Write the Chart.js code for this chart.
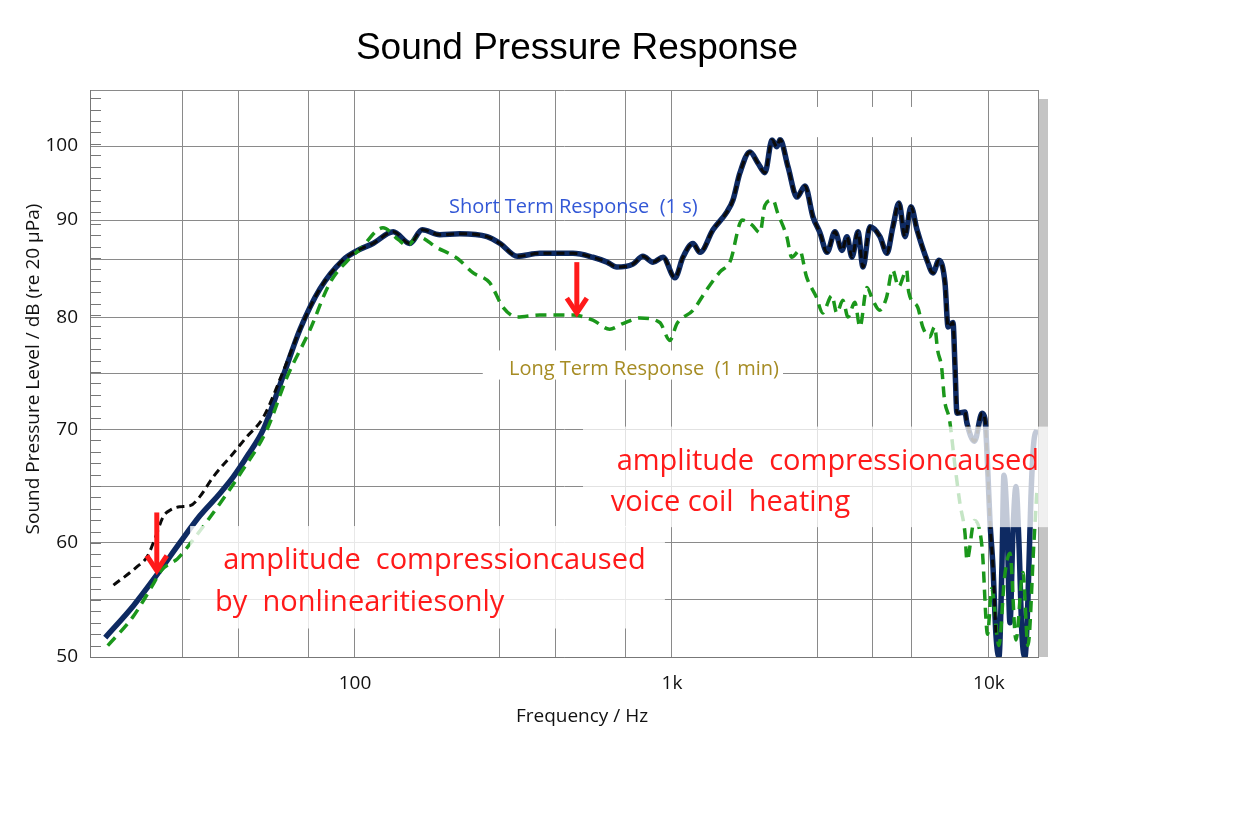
<!DOCTYPE html>
<html>
<head>
<meta charset="utf-8">
<title>Sound Pressure Response</title>
<script src="https://cdn.jsdelivr.net/npm/chart.js@4.4.1/dist/chart.umd.min.js"></script>
<style>
  html, body { margin: 0; padding: 0; background: #fff; }
  canvas { display: block; }
</style>
</head>
<body>
<canvas id="grafico" width="1240" height="815"></canvas>
<script>
// Datos (frecuencia en Hz, nivel en dB)

// Respuesta de corto plazo (linea azul oscuro continua)
const cortoFreq = [16.3, 20, 23.7, 28, 32.4, 37, 41.2, 46, 51.3, 59.3,
  67.1, 77.6, 91.6, 102, 114, 132, 149, 163, 185, 214,
  261, 287, 325, 383, 487, 563, 624, 670, 753, 810,
  871, 937, 1022, 1083, 1165, 1226, 1347, 1491, 1557, 1639,
  1762, 1867, 1965, 2068, 2144, 2192, 2323, 2479, 2628, 2786,
  2930, 3085, 3268, 3438, 3565, 3697, 3863, 4005, 4213, 4530,
  4766, 4977, 5200, 5433, 5676, 5930, 6375, 6658, 6956, 7266,
  7430, 7700, 7816, 7925, 8400, 8524, 9000, 9513, 9712, 9930,
  10070, 10293, 10519, 10753, 10990, 11150, 11400, 11650, 11906, 12167,
  12434, 12708, 12987, 13272, 13563, 13860, 14165];
const cortoDb = [51.7, 54.5, 57.2, 60.0, 62.4, 64.2, 65.8, 67.8, 70.0, 74.8,
  79.0, 83.0, 85.9, 86.9, 87.6, 88.8, 87.6, 89.0, 88.5, 88.6,
  88.3, 87.6, 86.3, 86.6, 86.6, 86.2, 85.7, 85.2, 85.5, 86.3,
  85.7, 86.2, 84.1, 86.2, 87.6, 86.7, 89.0, 91.1, 92.7, 96.4,
  99.2, 97.7, 96.4, 100.8, 99.9, 100.9, 97.2, 93.1, 94.6, 90.4,
  88.7, 86.7, 88.8, 86.9, 88.3, 86.2, 88.8, 85.2, 89.3, 88.3,
  86.6, 89.3, 92.3, 88.3, 91.8, 89.0, 85.9, 84.6, 85.9, 83.6,
  79.2, 79.6, 75.6, 71.5, 71.6, 70.6, 69.0, 71.5, 71.0, 66.0,
  62.0, 58.0, 52.0, 50.0, 58.0, 66.0, 62.0, 53.0, 61.0, 65.0,
  60.0, 52.0, 50.0, 55.0, 64.0, 69.0, 70.0];

// Linea negra discontinua: tramo de graves propio, luego sigue a la azul
const negroFreq = [17.3, 20.5, 22.1, 23.4, 24.8, 26.1, 28.0, 30.2, 32.4, 35.6, 41.2, 45.6, 51.3, 59.3];
const negroDb = [56.3, 57.9, 58.8, 60.4, 62.3, 62.9, 63.2, 63.3, 64.1, 65.8, 67.9, 69.4, 71.1, 75.2];

// Respuesta de largo plazo (verde discontinua)
const largoFreq = [16.6, 19.9, 23.0, 24.5, 26.1, 27.5, 30.9, 37.5, 43.4, 52.7,
  61, 72, 83.4, 96.4, 103.7, 122.5, 137, 146, 158, 181,
  210, 236, 266, 293, 324, 383, 487, 563, 636, 700,
  792, 915, 985, 1037, 1166, 1288, 1417, 1527, 1665, 1788,
  1895, 1965, 2081, 2157, 2303, 2387, 2530, 2658, 2858, 2987,
  3195, 3311, 3460, 3592, 3775, 3917, 4120, 4304, 4522, 4752,
  4965, 5188, 5500, 5580, 5960, 6180, 6500, 6740, 6890, 7090,
  7240, 7510, 7800, 8100, 8400, 8524, 9000, 9513, 9900, 10200,
  10750, 11200, 11650, 12167, 12800, 13272, 13860, 14165];
const largoDb = [51.0, 53.5, 56.3, 57.6, 58.2, 58.6, 60.3, 63.5, 66.1, 70.0,
  74.7, 78.9, 83.6, 86.1, 87.0, 89.2, 88.0, 87.4, 88.3, 87.2,
  86.1, 84.6, 83.6, 81.1, 80.1, 80.3, 80.3, 79.8, 79.0, 79.5,
  80.0, 79.6, 78.0, 79.5, 80.8, 82.9, 84.7, 85.8, 90.0, 89.5,
  88.7, 92.0, 92.7, 90.9, 88.3, 86.2, 86.9, 84.2, 82.1, 80.5,
  82.3, 80.5, 81.8, 80.1, 81.6, 79.2, 83.1, 81.8, 80.8, 82.1,
  84.9, 83.2, 84.9, 82.7, 81.1, 79.2, 78.3, 79.2, 77.1, 75.6,
  72.7, 70.9, 67.0, 63.5, 60.9, 58.5, 62.0, 59.6, 52.0, 56.0,
  51.0, 57.0, 59.1, 51.5, 57.4, 51.0, 60.0, 64.6];

// Ejes
const ejeXMin = 14.59;
const ejeXMax = 14280;
const lineasX = [28.5, 42.8, 71.6, 100, 286, 428, 716, 1000, 2870, 4300, 5700, 10000, 14280];
const etiquetasX = { 100: '100', 1000: '1k', 10000: '10k' };
const lineasY = [50, 55, 60, 65, 70, 75, 80, 86, 90, 100, 107.6];
const etiquetasY = [50, 60, 70, 80, 90, 100];

// El eje vertical del original no es lineal: tramos entre valores rotulados
const tramoValor = [50, 60, 70, 80, 90, 100, 107.6];
const tramoDecimal = [0, 0.2011, 0.4004, 0.5979, 0.7707, 0.9012, 1];

// Flechas rojas (frecuencia, desde dB, hasta dB)
const flechas = [
  { f: 23.7, desde: 62.7, hasta: 57.4 },
  { f: 501, desde: 85.7, hasta: 80.3 }
];

function aDecimal(v) {
  for (let i = 1; i < tramoValor.length; i++) {
    if (v <= tramoValor[i] || i === tramoValor.length - 1) {
      const t = (v - tramoValor[i - 1]) / (tramoValor[i] - tramoValor[i - 1]);
      return tramoDecimal[i - 1] + t * (tramoDecimal[i] - tramoDecimal[i - 1]);
    }
  }
}
function deDecimal(d) {
  for (let i = 1; i < tramoDecimal.length; i++) {
    if (d <= tramoDecimal[i] || i === tramoDecimal.length - 1) {
      const t = (d - tramoDecimal[i - 1]) / (tramoDecimal[i] - tramoDecimal[i - 1]);
      return tramoValor[i - 1] + t * (tramoValor[i] - tramoValor[i - 1]);
    }
  }
}

class EscalaDb extends Chart.LinearScale {
  getPixelForValue(v) {
    if (v === null || v === undefined) return NaN;
    return this.getPixelForDecimal(aDecimal(v));
  }
  getValueForPixel(p) {
    return deDecimal(this.getDecimalForPixel(p));
  }
}
EscalaDb.id = 'escalaDb';
EscalaDb.defaults = Chart.LinearScale.defaults;
Chart.register(EscalaDb);

const puntos = (fs, vs) => fs.map((f, i) => ({ x: f, y: vs[i] }));

const datosCorto = puntos(cortoFreq, cortoDb);
const datosNegro = puntos(negroFreq, negroDb)
  .concat(datosCorto.filter(p => p.x >= 67 && p.x <= 10600));
const datosLargo = puntos(largoFreq, largoDb);

const FUENTE = "'Open Sans', 'DejaVu Sans', sans-serif";

const anotaciones = {
  id: 'anotaciones',
  beforeDatasetsDraw(chart) {
    const { ctx, chartArea: a, scales: { y } } = chart;
    ctx.save();
    // sombra gris a la derecha
    ctx.fillStyle = '#c4c4c4';
    ctx.fillRect(a.right + 1, a.top + 9, 9, a.bottom - a.top - 9);
    // marcas menores del eje vertical
    const paso = (y.getPixelForValue(50) - y.getPixelForValue(60)) / 10;
    ctx.strokeStyle = '#777';
    ctx.lineWidth = 1;
    for (let py = a.bottom; py > a.top + 5; py -= paso) {
      ctx.beginPath();
      ctx.moveTo(a.left, Math.round(py) + 0.5);
      ctx.lineTo(a.left + 11, Math.round(py) + 0.5);
      ctx.stroke();
    }
    ctx.restore();
  },
  afterDatasetsDraw(chart) {
    const { ctx, scales: { x, y } } = chart;
    ctx.save();
    const caja = (f1, f2, d1, d2, alfa) => {
      const x1 = x.getPixelForValue(f1), x2 = x.getPixelForValue(f2);
      const y1 = y.getPixelForValue(d1), y2 = y.getPixelForValue(d2);
      ctx.fillStyle = 'rgba(255,255,255,' + alfa + ')';
      ctx.fillRect(x1, y1, x2 - x1, y2 - y1);
    };
    caja(1226, 8100, 105.3, 101.2, 1);
    caja(253, 2240, 77.1, 74.5, 1);
    caja(524, 15350, 70.3, 61.4, 0.75);
    caja(30.2, 950, 61.5, 52.5, 0.8);

    const texto = (t, f, d, color, size) => {
      ctx.font = size + 'px ' + FUENTE;
      ctx.fillStyle = color;
      ctx.textAlign = 'left';
      ctx.textBaseline = 'alphabetic';
      ctx.fillText(t, x.getPixelForValue(f), y.getPixelForValue(d));
    };
    texto('Short Term Response  (1 s)', 198, 90.9, '#3358d6', 20);
    texto('Long Term Response  (1 min)', 306, 74.9, '#a68c24', 20);
    texto('amplitude  compressioncaused', 669, 66.5, '#ff1a1a', 29);
    texto('voice coil  heating', 641, 62.8, '#ff1a1a', 29);
    texto('amplitude  compressioncaused', 38.4, 57.7, '#ff1a1a', 29);
    texto('by  nonlinearitiesonly', 36.2, 54.0, '#ff1a1a', 29);

    // flechas rojas
    ctx.strokeStyle = '#ff1a1a';
    ctx.lineWidth = 5;
    ctx.lineCap = 'butt';
    flechas.forEach(fl => {
      const px = x.getPixelForValue(fl.f);
      const y1 = y.getPixelForValue(fl.desde), y2 = y.getPixelForValue(fl.hasta);
      ctx.beginPath();
      ctx.moveTo(px, y1);
      ctx.lineTo(px, y2 - 2);
      ctx.stroke();
      ctx.beginPath();
      ctx.moveTo(px - 10, y2 - 17);
      ctx.lineTo(px, y2 - 2);
      ctx.lineTo(px + 10, y2 - 17);
      ctx.stroke();
    });
    ctx.restore();
  },
  afterDraw(chart) {
    const { ctx } = chart;
    ctx.save();
    ctx.fillStyle = '#000';
    ctx.textAlign = 'center';
    ctx.textBaseline = 'alphabetic';
    ctx.font = "37px 'Liberation Sans', Arial, sans-serif";
    ctx.fillText('Sound Pressure Response', 577, 59);
    ctx.font = '19px ' + FUENTE;
    ctx.fillStyle = '#111';
    ctx.fillText('Frequency / Hz', 582, 722);
    ctx.translate(39, 369);
    ctx.rotate(-Math.PI / 2);
    ctx.font = '19px ' + FUENTE;
    ctx.fillText('Sound Pressure Level / dB (re 20 \u00b5Pa)', 0, 0);
    ctx.restore();
  }
};

const ctx = document.getElementById('grafico').getContext('2d');
new Chart(ctx, {
  type: 'line',
  data: {
    datasets: [
      {
        label: 'Short Term Response (1 s) - dashed',
        data: datosNegro,
        borderColor: '#0a0a0a',
        borderWidth: 3,
        borderDash: [8, 5],
        pointRadius: 0,
        fill: false,
        cubicInterpolationMode: 'monotone'
      },
      {
        label: 'Long Term Response (1 min)',
        data: datosLargo,
        borderColor: '#1b971b',
        borderWidth: 3.5,
        borderDash: [11, 7],
        pointRadius: 0,
        fill: false,
        cubicInterpolationMode: 'monotone'
      },
      {
        label: 'Short Term Response (1 s)',
        data: datosCorto,
        borderColor: '#0e2a62',
        borderWidth: 5.5,
        pointRadius: 0,
        fill: false,
        cubicInterpolationMode: 'monotone'
      }
    ]
  },
  options: {
    responsive: false,
    animation: false,
    events: [],
    layout: { padding: { top: 90, right: 202, bottom: 98, left: 0 } },
    plugins: {
      legend: { display: false },
      tooltip: { enabled: false },
      title: { display: false }
    },
    scales: {
      x: {
        type: 'logarithmic',
        min: ejeXMin,
        max: ejeXMax,
        afterBuildTicks: s => { s.ticks = lineasX.map(v => ({ value: v })); },
        afterFit: s => { s.height = 60; },
        grid: { color: '#8a8a8a', lineWidth: 1, drawTicks: false },
        border: { color: '#777', width: 1 },
        ticks: {
          autoSkip: false,
          maxRotation: 0,
          padding: 15,
          color: '#111',
          font: { family: FUENTE, size: 19 },
          callback: v => etiquetasX[v] || ''
        }
      },
      y: {
        type: 'escalaDb',
        min: 50,
        max: 107.6,
        afterBuildTicks: s => { s.ticks = lineasY.map(v => ({ value: v })); },
        afterFit: s => { s.width = 90; },
        grid: { color: '#8a8a8a', lineWidth: 1, drawTicks: false },
        border: { color: '#777', width: 1 },
        ticks: {
          autoSkip: false,
          padding: 12,
          color: '#111',
          font: { family: FUENTE, size: 19 },
          callback: v => etiquetasY.includes(v) ? String(v) : ''
        }
      }
    }
  },
  plugins: [anotaciones]
});
</script>
</body>
</html>
